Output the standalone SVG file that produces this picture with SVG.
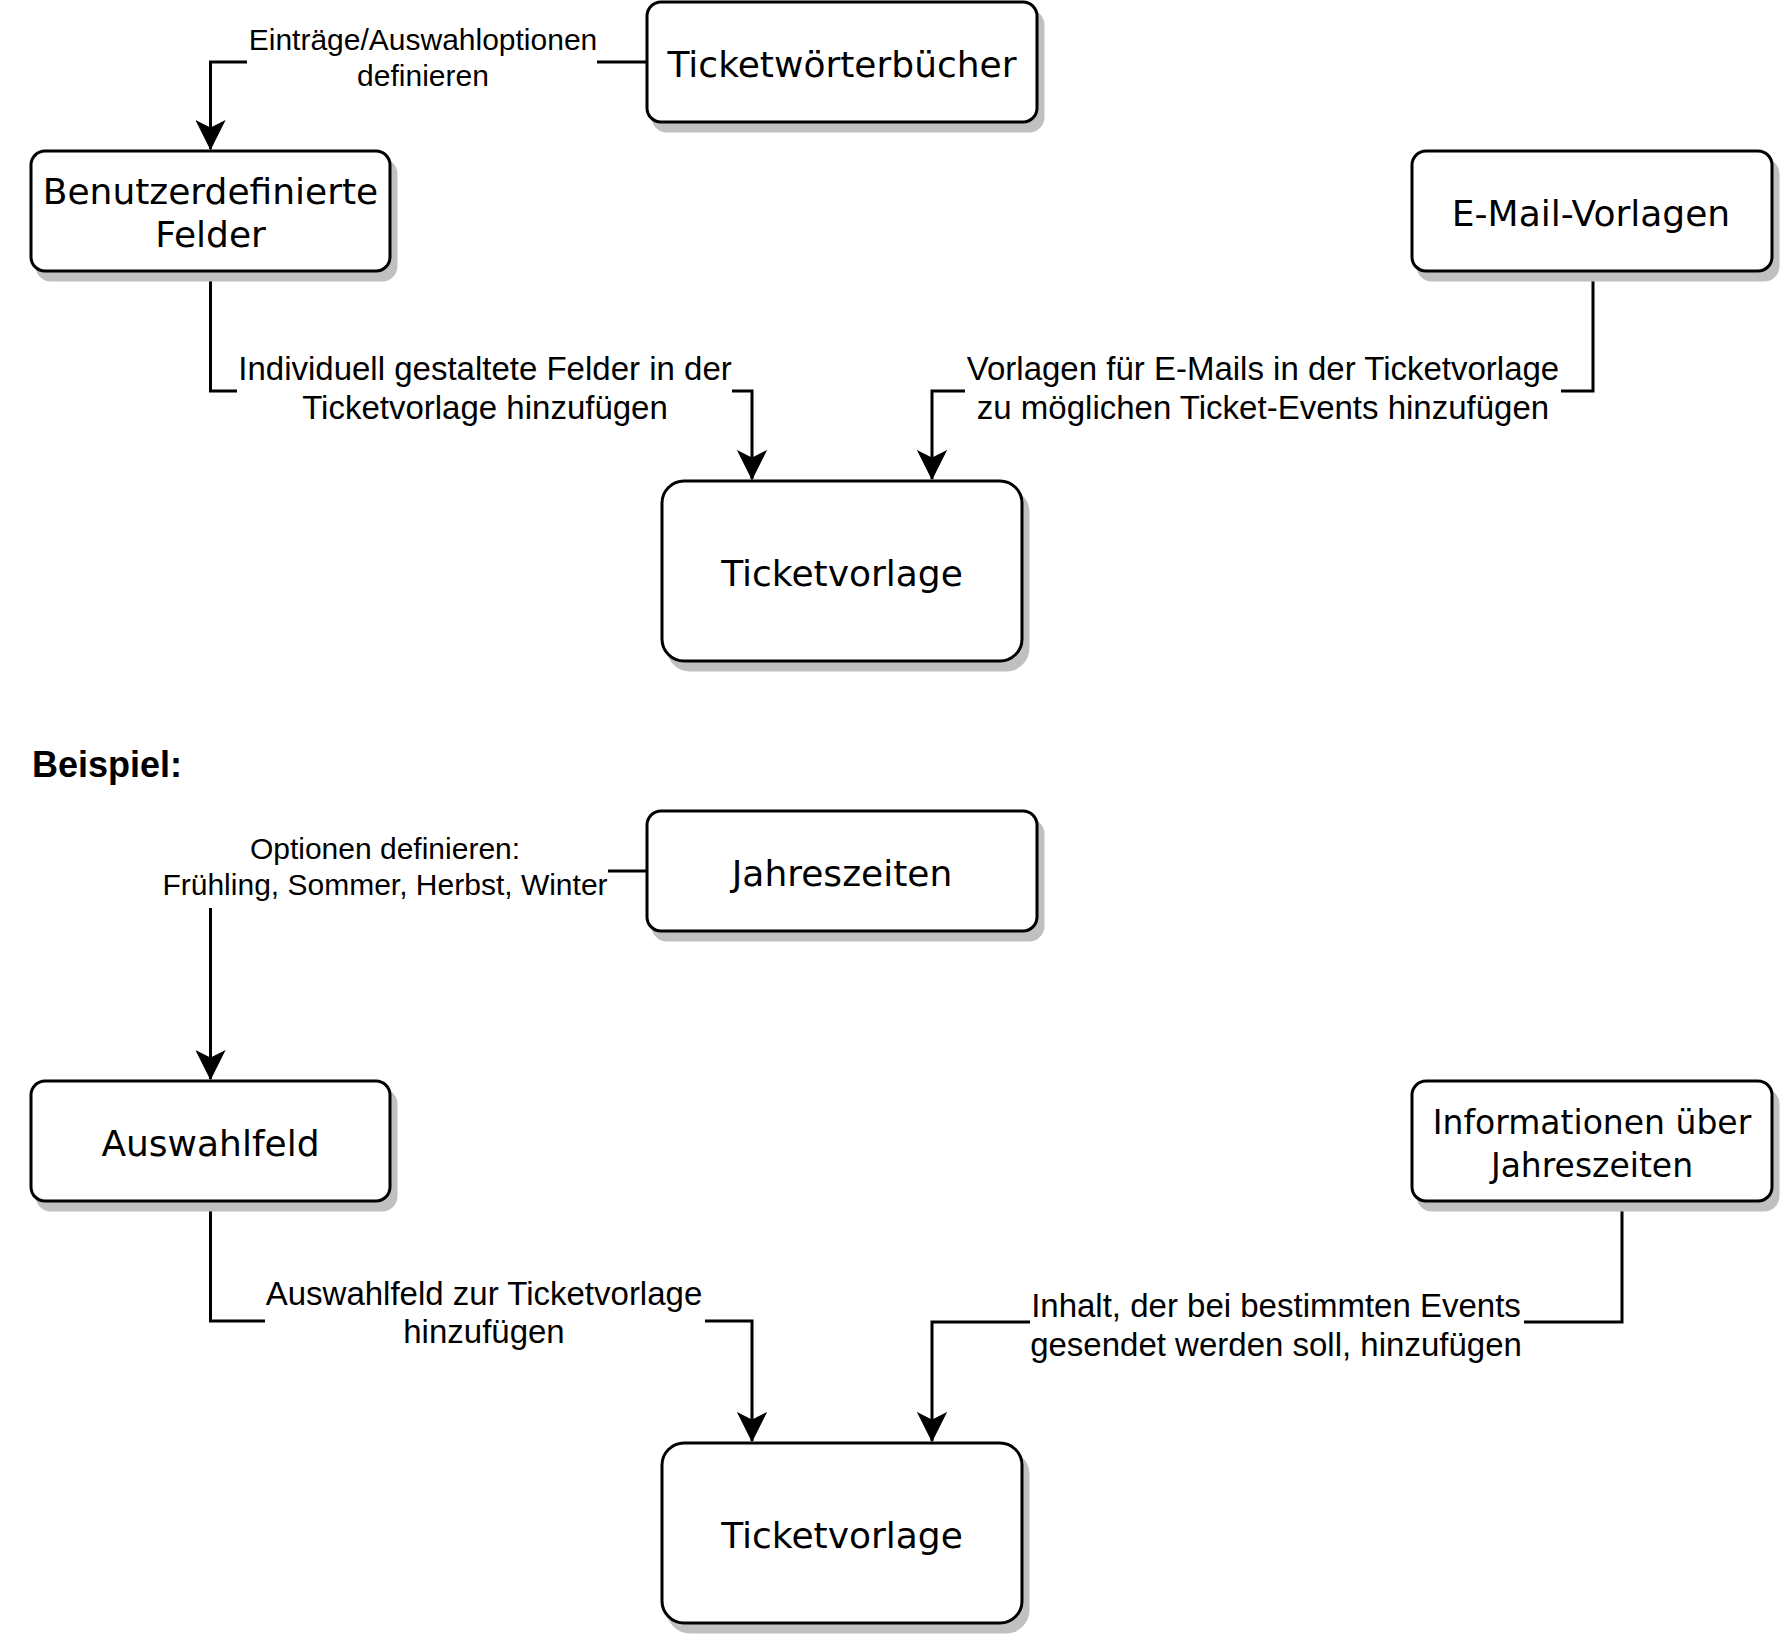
<svg xmlns="http://www.w3.org/2000/svg" width="1782" height="1635" viewBox="0 0 1782 1635">
<style>
.box{fill:#ffffff;stroke:#000000;stroke-width:3}
.sh{fill:#c0c0c0;stroke:#c0c0c0;stroke-width:3}
.nt{font-family:"DejaVu Sans",Verdana,sans-serif;font-size:36px;fill:#000000;text-anchor:middle}
.nts{font-family:"DejaVu Sans",Verdana,sans-serif;font-size:33px;fill:#000000;text-anchor:middle}
.el{font-family:"Liberation Sans",Arial,Helvetica,sans-serif;font-size:33px;fill:#000000;text-anchor:middle}
.es{font-family:"Liberation Sans",Arial,Helvetica,sans-serif;font-size:30px;fill:#000000;text-anchor:middle}
.ln{fill:none;stroke:#000000;stroke-width:3}
.bg{fill:#ffffff}
</style>
<defs>
<marker id="arr" markerUnits="userSpaceOnUse" markerWidth="30" markerHeight="30" viewBox="-27 -14 28 28" refX="0" refY="0" orient="auto">
<path d="M0,0 L-26,-13 L-19.5,0 L-26,13 Z" fill="#000000" stroke="#000000" stroke-width="1"/>
</marker>
</defs>
<rect width="1782" height="1635" fill="#ffffff"/>

<g id="connectors">
<path class="ln" d="M647,62 H210.5 V149" marker-end="url(#arr)"/>
<path class="ln" d="M210.5,271 V391 H752 V479" marker-end="url(#arr)"/>
<path class="ln" d="M1593,271 V391 H932 V479" marker-end="url(#arr)"/>
<path class="ln" d="M647,871 H210.5 V1079" marker-end="url(#arr)"/>
<path class="ln" d="M210.5,1201 V1321 H752 V1441" marker-end="url(#arr)"/>
<path class="ln" d="M1622,1201 V1322 H932 V1441" marker-end="url(#arr)"/>
<g id="label-1">
<rect class="bg" x="247" y="26" width="350" height="70"/>
<text class="es" x="423" y="50">Einträge/Auswahloptionen</text>
<text class="es" x="423" y="86">definieren</text>
</g>
<g id="label-2">
<rect class="bg" x="237" y="354" width="495" height="76"/>
<text class="el" x="485" y="380">Individuell gestaltete Felder in der</text>
<text class="el" x="485" y="419">Ticketvorlage hinzufügen</text>
</g>
<g id="label-3">
<rect class="bg" x="965" y="354" width="596" height="76"/>
<text class="el" x="1263" y="380">Vorlagen für E-Mails in der Ticketvorlage</text>
<text class="el" x="1263" y="419">zu möglichen Ticket-Events hinzufügen</text>
</g>
<g id="label-4">
<rect class="bg" x="162" y="832" width="446" height="76"/>
<text class="es" x="385" y="859">Optionen definieren:</text>
<text class="es" x="385" y="895">Frühling, Sommer, Herbst, Winter</text>
</g>
<g id="label-5">
<rect class="bg" x="265" y="1279" width="440" height="76"/>
<text class="el" x="484" y="1305">Auswahlfeld zur Ticketvorlage</text>
<text class="el" x="484" y="1343">hinzufügen</text>
</g>
<g id="label-6">
<rect class="bg" x="1030" y="1291" width="494" height="76"/>
<text class="el" x="1276" y="1317">Inhalt, der bei bestimmten Events</text>
<text class="el" x="1276" y="1356">gesendet werden soll, hinzufügen</text>
</g>
</g>

<g id="node-ticketwoerterbuecher">
<rect class="sh" x="653" y="11" width="390" height="120" rx="14"/>
<rect class="box" x="647" y="2" width="390" height="120" rx="14"/>
<text class="nt" x="842" y="77">Ticketwörterbücher</text>
</g>
<g id="node-benutzerdefinierte-felder">
<rect class="sh" x="37" y="160" width="359" height="120" rx="14"/>
<rect class="box" x="31" y="151" width="359" height="120" rx="14"/>
<text class="nt" x="210.5" y="204">Benutzerdefinierte</text>
<text class="nt" x="210.5" y="247">Felder</text>
</g>
<g id="node-email-vorlagen">
<rect class="sh" x="1418" y="160" width="360" height="120" rx="14"/>
<rect class="box" x="1412" y="151" width="360" height="120" rx="14"/>
<text class="nt" x="1591" y="226">E-Mail-Vorlagen</text>
</g>
<g id="node-ticketvorlage-1">
<rect class="sh" x="668" y="490" width="360" height="180" rx="22"/>
<rect class="box" x="662" y="481" width="360" height="180" rx="22"/>
<text class="nt" x="842" y="586">Ticketvorlage</text>
</g>

<g id="heading-beispiel">
<text x="32" y="777" font-family="'Liberation Sans',Arial,Helvetica,sans-serif" font-size="36" font-weight="bold" fill="#000000">Beispiel:</text>
</g>

<g id="node-jahreszeiten">
<rect class="sh" x="653" y="820" width="390" height="120" rx="14"/>
<rect class="box" x="647" y="811" width="390" height="120" rx="14"/>
<text class="nt" x="842" y="886">Jahreszeiten</text>
</g>
<g id="node-auswahlfeld">
<rect class="sh" x="37" y="1090" width="359" height="120" rx="14"/>
<rect class="box" x="31" y="1081" width="359" height="120" rx="14"/>
<text class="nt" x="210.5" y="1156">Auswahlfeld</text>
</g>
<g id="node-informationen">
<rect class="sh" x="1418" y="1090" width="360" height="120" rx="14"/>
<rect class="box" x="1412" y="1081" width="360" height="120" rx="14"/>
<text class="nts" x="1592" y="1134">Informationen über</text>
<text class="nts" x="1592" y="1177">Jahreszeiten</text>
</g>
<g id="node-ticketvorlage-2">
<rect class="sh" x="668" y="1452" width="360" height="180" rx="22"/>
<rect class="box" x="662" y="1443" width="360" height="180" rx="22"/>
<text class="nt" x="842" y="1548">Ticketvorlage</text>
</g>
</svg>
